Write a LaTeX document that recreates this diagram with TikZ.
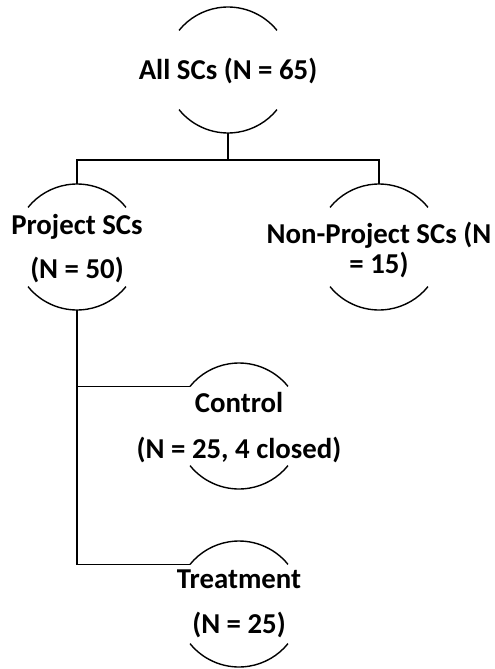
\documentclass[tikz,border=0pt]{standalone}
\usepackage{fontspec}
\setmainfont{Carlito}
\usetikzlibrary{calc}

\begin{document}
\begin{tikzpicture}[
  x=1pt,y=-1pt,
  link/.style={line width=1.6pt},
  half/.style={line width=1.4pt},
  ring/.style={circle,minimum size=126pt,inner sep=0pt,outer sep=0pt},
  lbl/.style={align=center,inner sep=0pt,anchor=base,
    font=\bfseries\fontsize{28.8}{45}\selectfont}]
\useasboundingbox (0,0) rectangle (495,669);
\node[ring] (all) at (228,70) {};
\node[ring] (proj) at (77,247) {};
\node[ring] (nonproj) at (379,247) {};
\node[ring] (ctrl) at (239,426) {};
\node[ring] (treat) at (239,604) {};
\node[lbl] (alltxt) at (228,80) {All SCs (N = 65)};
\node[lbl,font=\bfseries\fontsize{28.8}{44}\selectfont] (projtxt) at (77,278)
 {Project SCs\\(N = 50)};
\node[lbl,font=\bfseries\fontsize{28.8}{30}\selectfont] (nonprojtxt) at (379,273)
 {Non-Project SCs (N\\= 15)};
\node[lbl,font=\bfseries\fontsize{28.8}{46}\selectfont] (ctrltxt) at (239,458)
 {Control\\(N = 25, 4 closed)};
\node[lbl] (treattxt) at (239,633) {Treatment\\(N = 25)};
\foreach \n in {all,proj,nonproj,ctrl,treat}{
  \draw[half] (\n.39) arc[start angle=39,end angle=141,radius=63pt];
  \draw[half] (\n.219) arc[start angle=219,end angle=321,radius=63pt];
}
\coordinate (split) at ($(all.south)+(0,27)$);
\draw[link] (all.south)--(split);
\draw[link] (proj.north) |- (split) -| (nonproj.north);
\draw[link] (proj.south) |- (treat.141);
\draw[link] (proj.south |- ctrl.141)--(ctrl.141);
\end{tikzpicture}
\end{document}
